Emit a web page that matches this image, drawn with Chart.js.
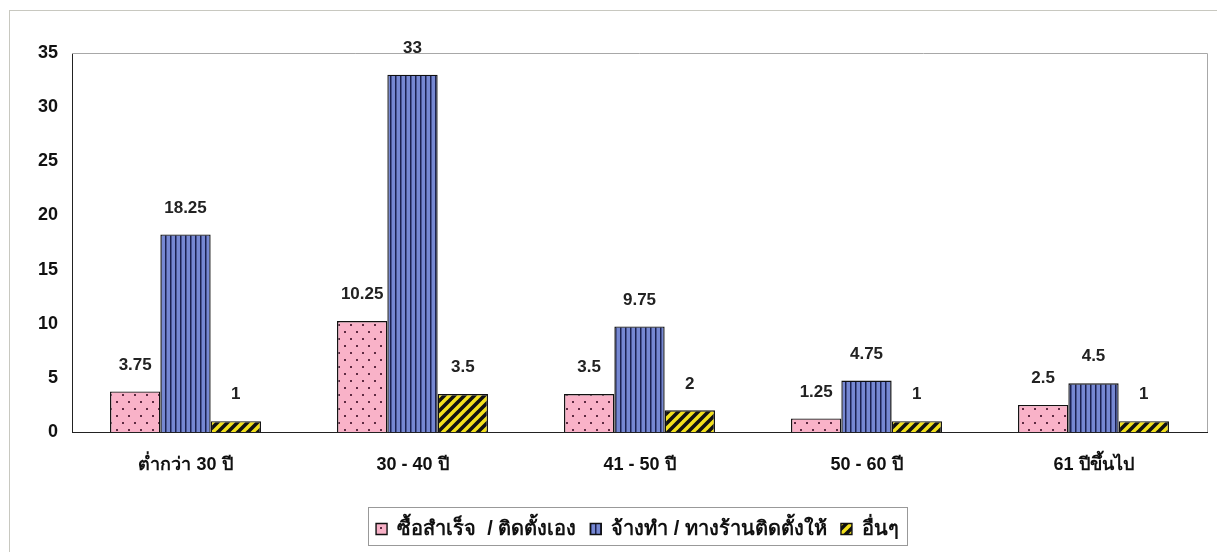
<!DOCTYPE html>
<html lang="th">
<head>
<meta charset="UTF-8">
<title>chart</title>
<script src="https://cdn.jsdelivr.net/npm/chart.js"></script>
<style>
    html, body { margin: 0; padding: 0; background: #fff; }
    #wrap { position: relative; width: 1217px; height: 552px; overflow: hidden; }
    #frame { position: absolute; left: 9px; top: 10px; width: 1230px; height: 560px; border: 1px solid #c8c8c0; }
    #c { position: absolute; left: 0; top: 0; }
</style>
</head>
<body>
<div id="wrap">
    <div id="frame"></div>
    <canvas id="c" width="1217" height="552"></canvas>
</div>
<script>
// ข้อมูล
const categories = ['ต่ำกว่า 30 ปี', '30 - 40 ปี', '41 - 50 ปี', '50 - 60 ปี', '61 ปีขึ้นไป'];
const seriesNames = ['ซื้อสำเร็จ  / ติดตั้งเอง', 'จ้างทำ / ทางร้านติดตั้งให้', 'อื่นๆ'];
const buyReady = [3.75, 10.25, 3.5, 1.25, 2.5];
const hired = [18.25, 33, 9.75, 4.75, 4.5];
const others = [1, 3.5, 2, 1, 1];
const yTicks = [0, 5, 10, 15, 20, 25, 30, 35];

const FONT = '"Liberation Sans", Arial, sans-serif';

// patterns
function makePattern(kind) {
    const p = document.createElement('canvas');
    const g = p.getContext('2d');
    if (kind === 'dots') {
        p.width = 12; p.height = 14;
        g.fillStyle = '#f9b2c8'; g.fillRect(0, 0, 12, 14);
        g.fillStyle = '#5e2a42';
        g.fillRect(2, 2, 2, 2);
        g.fillRect(8, 9, 2, 2);
    } else if (kind === 'vlines') {
        p.width = 5; p.height = 5;
        g.fillStyle = '#7688d2'; g.fillRect(0, 0, 5, 5);
        g.fillStyle = '#1b2150'; g.fillRect(0, 0, 1.5, 5);
    } else {
        const s = 10;
        p.width = s; p.height = s;
        g.fillStyle = '#f2e01c'; g.fillRect(0, 0, s, s);
        g.strokeStyle = '#111'; g.lineWidth = 3.6;
        g.beginPath();
        for (let k = -s; k <= s; k += s) {
            g.moveTo(k - 1, s + 1); g.lineTo(k + s + 1, -1);
        }
        g.stroke();
    }
    return g.createPattern(p, 'repeat');
}

const ctx = document.getElementById('c').getContext('2d');

// ตัวเลขเหนือแท่ง
const valueLabels = {
    id: 'valueLabels',
    afterDatasetsDraw(chart) {
        const c = chart.ctx;
        c.save();
        c.font = 'bold 17px ' + FONT;
        c.fillStyle = '#222';
        c.textAlign = 'center';
        c.textBaseline = 'bottom';
        chart.data.datasets.forEach((ds, i) => {
            chart.getDatasetMeta(i).data.forEach((bar, j) => {
                c.fillText(String(ds.data[j]), bar.x, bar.y - 18);
            });
        });
        c.restore();
    }
};

const frames = {
    id: 'frames',
    afterLayout(chart) {
        // legend in the original sits a little right of centre
        chart.legend.left += 34;
        chart.legend.right += 34;
    },
    beforeDatasetsDraw(chart) {
        const a = chart.chartArea, c = chart.ctx;
        c.save();
        c.strokeStyle = '#a8a8a8';
        c.lineWidth = 1;
        c.beginPath();
        c.moveTo(a.left, a.top + 0.5); c.lineTo(a.right + 0.5, a.top + 0.5); c.lineTo(a.right + 0.5, a.bottom);
        c.stroke();
        c.restore();
    },
    afterDraw(chart) {
        const boxes = chart.legend.legendHitBoxes, c = chart.ctx;
        if (!boxes || !boxes.length) return;
        const left = Math.min(...boxes.map(b => b.left)) - 8;
        const right = Math.max(...boxes.map(b => b.left + b.width)) + 8;
        c.save();
        c.strokeStyle = '#999';
        c.lineWidth = 1;
        c.strokeRect(Math.round(left) + 0.5, 507.5, Math.round(right - left), 38);
        c.restore();
    }
};

new Chart(ctx, {
    type: 'bar',
    data: {
        labels: categories,
        datasets: [
            { label: seriesNames[0], data: buyReady, backgroundColor: makePattern('dots') },
            { label: seriesNames[1], data: hired, backgroundColor: makePattern('vlines') },
            { label: seriesNames[2], data: others, backgroundColor: makePattern('diag') }
        ].map(d => Object.assign(d, { borderColor: '#111', borderWidth: 1.4, barPercentage: 1, categoryPercentage: 0.665 }))
    },
    options: {
        responsive: false,
        animation: false,
        layout: { padding: { top: 53, left: 0, right: 10, bottom: 3 } },
        plugins: {
            tooltip: { enabled: false },
            legend: {
                position: 'bottom',
                labels: {
                    boxWidth: 11, boxHeight: 11, padding: 14,
                    color: '#111',
                    font: { family: FONT, size: 20, weight: 'bold' }
                }
            }
        },
        scales: {
            x: {
                afterFit: s => { s.height = 73; },
                grid: { display: false, drawTicks: false },
                border: { color: '#222', width: 1 },
                ticks: {
                    padding: 22, color: '#111',
                    font: { family: FONT, size: 18, weight: 'bold' }
                }
            },
            y: {
                min: 0, max: 35,
                afterBuildTicks: s => { s.ticks = yTicks.map(v => ({ value: v })); },
                afterFit: s => { s.width = 72; },
                grid: { display: false, drawOnChartArea: false, drawTicks: true, tickLength: 5, color: '#222' },
                border: { color: '#222', width: 1 },
                ticks: {
                    padding: 9, color: '#111',
                    font: { family: FONT, size: 18, weight: 'bold' }
                }
            }
        }
    },
    plugins: [valueLabels, frames]
});
</script>
</body>
</html>
